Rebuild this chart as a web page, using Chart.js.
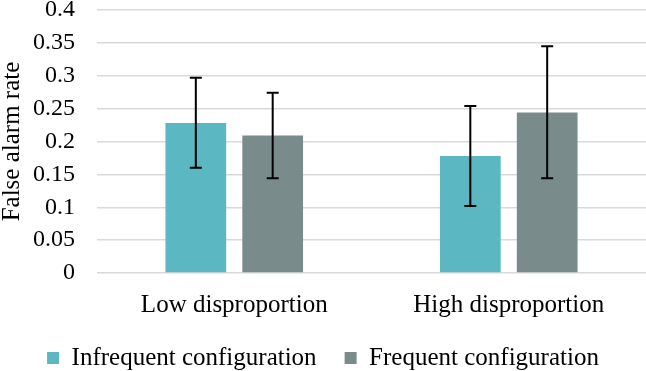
<!DOCTYPE html>
<html lang="en">
<head>
    <meta charset="UTF-8">
    <title>False alarm rate</title>
    <script src="https://cdn.jsdelivr.net/npm/chart.js"></script>
    <style>
        body {
            margin: 0;
            background-color: #ffffff;
        }
        .chart-container {
            width: 646px;
            height: 371px;
        }
    </style>
</head>
<body>
    <div class="chart-container">
        <canvas id="alarmChart"></canvas>
    </div>

    <script>
        const categories = ['Low disproportion', 'High disproportion'];
        const seriesNames = ['Infrequent configuration', 'Frequent configuration'];
        const infrequentValues = [0.228, 0.178];
        const frequentValues = [0.209, 0.244];
        // error bar ends (low, high)
        const infrequentErrLow = [0.160, 0.102];
        const infrequentErrHigh = [0.297, 0.254];
        const frequentErrLow = [0.144, 0.144];
        const frequentErrHigh = [0.274, 0.345];

        const serif = "'Liberation Serif', 'Times New Roman', serif";

        // draws the error bars on top of the bars
        const errorBarPlugin = {
            id: 'errorBars',
            afterDatasetsDraw(chart) {
                const ctx = chart.ctx;
                const yScale = chart.scales.y;
                chart.data.datasets.forEach((ds, i) => {
                    const meta = chart.getDatasetMeta(i);
                    meta.data.forEach((bar, j) => {
                        const yLow = yScale.getPixelForValue(ds.errLow[j]);
                        const yHigh = yScale.getPixelForValue(ds.errHigh[j]);
                        const x = bar.x;
                        const cap = 6;
                        ctx.save();
                        ctx.strokeStyle = '#000000';
                        ctx.lineWidth = 2;
                        ctx.beginPath();
                        ctx.moveTo(x, yLow);
                        ctx.lineTo(x, yHigh);
                        ctx.moveTo(x - cap, yLow);
                        ctx.lineTo(x + cap, yLow);
                        ctx.moveTo(x - cap, yHigh);
                        ctx.lineTo(x + cap, yHigh);
                        ctx.stroke();
                        ctx.restore();
                    });
                });
            }
        };

        const ctx = document.getElementById('alarmChart').getContext('2d');
        new Chart(ctx, {
            type: 'bar',
            data: {
                labels: categories,
                datasets: [{
                    label: seriesNames[0],
                    data: infrequentValues,
                    errLow: infrequentErrLow,
                    errHigh: infrequentErrHigh,
                    backgroundColor: '#5bb7c1'
                }, {
                    label: seriesNames[1],
                    data: frequentValues,
                    errLow: frequentErrLow,
                    errHigh: frequentErrHigh,
                    backgroundColor: '#7a8b8c'
                }]
            },
            options: {
                responsive: true,
                maintainAspectRatio: false,
                animation: false,
                categoryPercentage: 0.56,
                barPercentage: 0.79,
                layout: { padding: { top: 0, right: 0, left: 0, bottom: -9.5 } },
                plugins: {
                    tooltip: { enabled: false },
                    legend: {
                        position: 'bottom',
                        labels: {
                            color: '#000000',
                            boxWidth: 12,
                            boxHeight: 12,
                            padding: 28,
                            font: { family: serif, size: 25 }
                        }
                    }
                },
                scales: {
                    x: {
                        grid: { display: false, drawTicks: false },
                        border: { display: false },
                        ticks: {
                            color: '#000000',
                            padding: 19.5,
                            font: { family: serif, size: 25, lineHeight: 1 }
                        },
                        // padding is counted twice by default
                        afterFit: s => { s.height = 44.5; }
                    },
                    y: {
                        min: 0,
                        max: 0.4,
                        grid: { color: '#d9d9d9', lineWidth: 1.5, drawTicks: false },
                        border: { display: false },
                        ticks: {
                            stepSize: 0.05,
                            autoSkip: false,
                            color: '#000000',
                            padding: 22,
                            font: { family: serif, size: 24 },
                            callback: v => parseFloat(v.toFixed(2)).toString()
                        },
                        title: {
                            display: true,
                            text: 'False alarm rate',
                            color: '#000000',
                            padding: { top: 0, bottom: 8 },
                            font: { family: serif, size: 25, lineHeight: 1 }
                        },
                        // tick padding is counted twice by default; fix the axis box
                        afterFit: s => {
                            s.width = 97;
                            s.paddingTop = 10;
                            s.paddingBottom = 14;
                        }
                    }
                }
            },
            plugins: [errorBarPlugin]
        });
    </script>
</body>
</html>
